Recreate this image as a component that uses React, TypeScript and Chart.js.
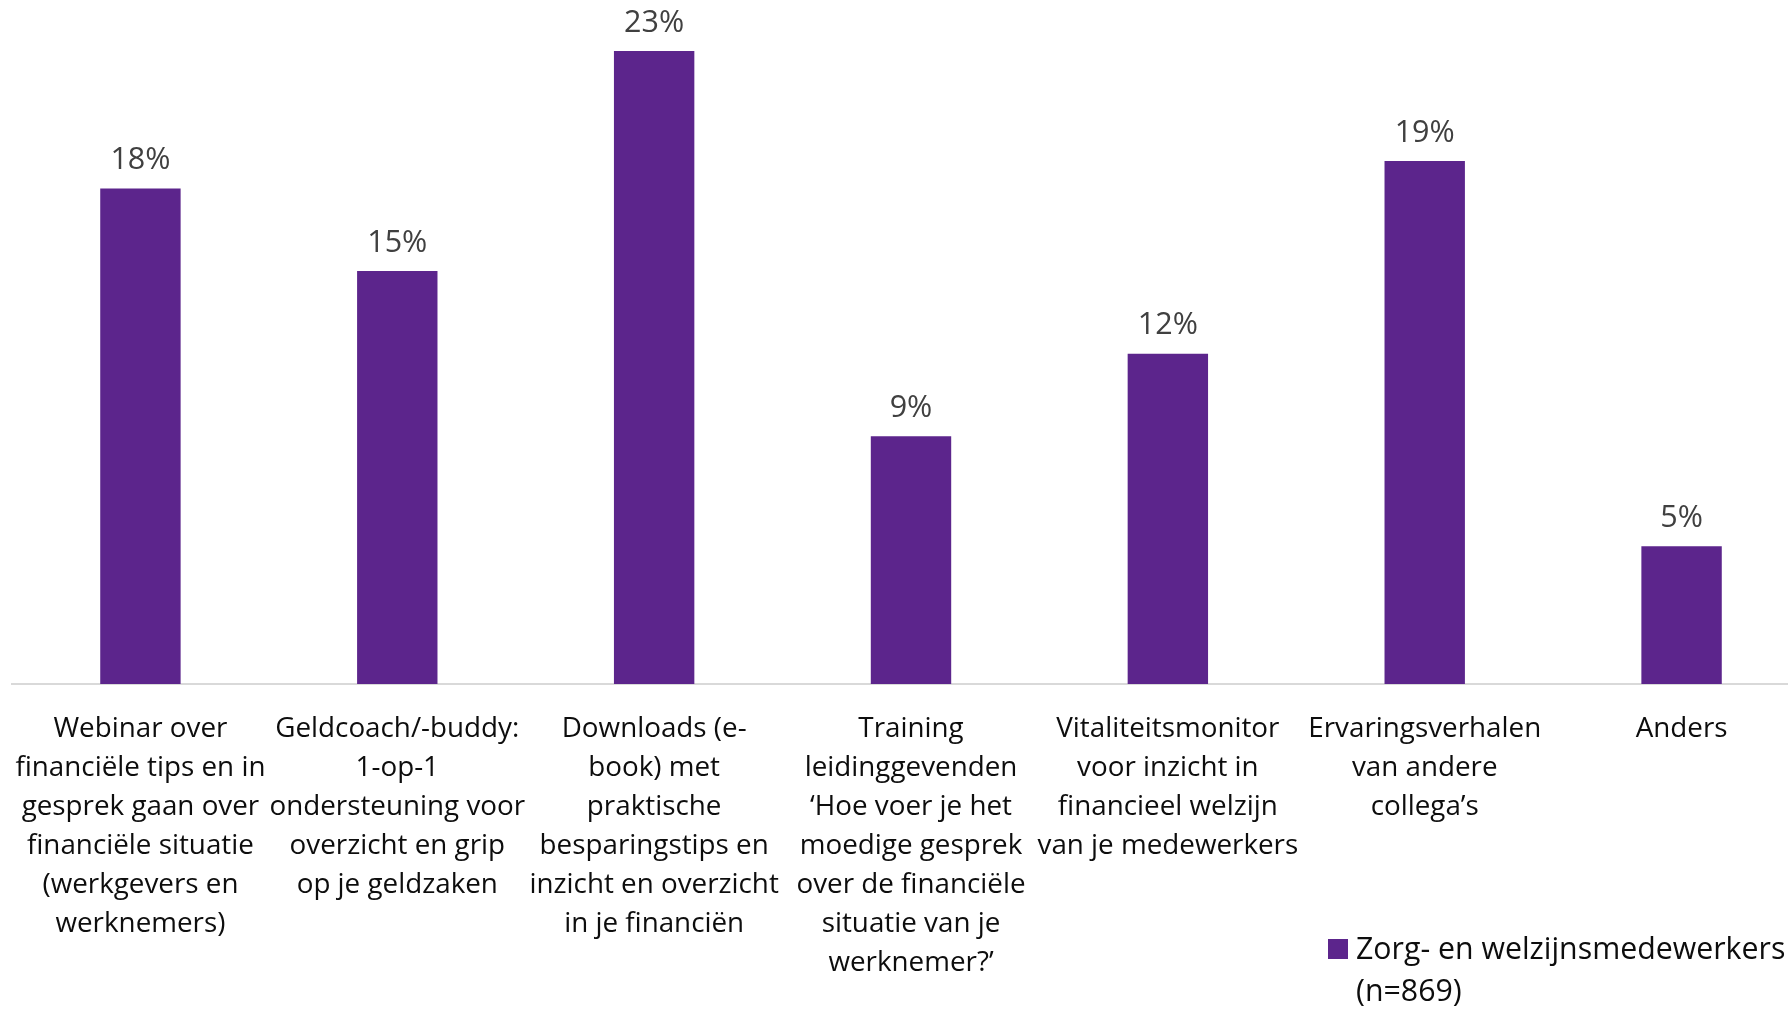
import React, { useEffect, useRef } from "react";
import { Chart, registerables } from "chart.js";

Chart.register(...registerables);

const categories: string[][] = [
  ["Webinar over", "financiële tips en in", "gesprek gaan over", "financiële situatie", "(werkgevers en", "werknemers)"],
  ["Geldcoach/-buddy:", "1-op-1", "ondersteuning voor", "overzicht en grip", "op je geldzaken"],
  ["Downloads (e-", "book) met", "praktische", "besparingstips en", "inzicht en overzicht", "in je financiën"],
  ["Training", "leidinggevenden", "‘Hoe voer je het", "moedige gesprek", "over de financiële", "situatie van je", "werknemer?’"],
  ["Vitaliteitsmonitor", "voor inzicht in", "financieel welzijn", "van je medewerkers"],
  ["Ervaringsverhalen", "van andere", "collega’s"],
  ["Anders"],
];

const values: number[] = [18, 15, 23, 9, 12, 19, 5];

const seriesLabelLines: string[] = ["Zorg- en welzijnsmedewerkers", "(n=869)"];

const BAR_COLOR = "#5C258C";
const FONT = "'Open Sans', 'Noto Sans', sans-serif";

const dataLabelPlugin = {
  id: "dataLabels",
  afterDatasetsDraw(chart: any) {
    const ctx = chart.ctx;
    const meta = chart.getDatasetMeta(0);
    ctx.save();
    ctx.font = `30.5px ${FONT}`;
    ctx.fillStyle = "#404040";
    ctx.textAlign = "center";
    ctx.textBaseline = "middle";
    meta.data.forEach((bar: any, i: number) => {
      ctx.fillText(`${values[i]}%`, bar.x, bar.y - 28);
    });
    ctx.restore();
  },
};

const legendPlugin = {
  id: "customLegend",
  afterDraw(chart: any) {
    const ctx = chart.ctx;
    const x = 1328;
    const y = 950;
    ctx.save();
    ctx.fillStyle = BAR_COLOR;
    ctx.fillRect(x, y - 11, 20, 20);
    ctx.font = `30.3px ${FONT}`;
    ctx.fillStyle = "#0d0d0d";
    ctx.textAlign = "left";
    ctx.textBaseline = "middle";
    seriesLabelLines.forEach((line, i) => {
      ctx.fillText(line, x + 28, y + i * 42);
    });
    ctx.restore();
  },
};

export default function App() {
  const canvasRef = useRef<HTMLCanvasElement>(null);

  useEffect(() => {
    if (!canvasRef.current) return;
    const chart = new Chart(canvasRef.current, {
      type: "bar",
      data: {
        labels: categories,
        datasets: [
          {
            label: seriesLabelLines.join(" "),
            data: values,
            backgroundColor: BAR_COLOR,
            categoryPercentage: 1,
            barPercentage: 0.313,
          },
        ],
      },
      options: {
        responsive: false,
        animation: false,
        layout: { padding: { left: 12, right: 0, top: 0, bottom: 0 } },
        plugins: {
          legend: { display: false },
          tooltip: { enabled: false },
        },
        scales: {
          x: {
            grid: { display: false, drawTicks: false },
            border: { display: true, color: "#d9d9d9", width: 2 },
            ticks: {
              autoSkip: false,
              maxRotation: 0,
              minRotation: 0,
              padding: 26,
              color: "#0d0d0d",
              font: { family: FONT, size: 27.8, lineHeight: "39px" },
            },
            afterFit: (scale: any) => {
              scale.height = 327;
              scale.paddingLeft = 0;
              scale.paddingRight = 0;
            },
          },
          y: {
            display: false,
            min: 0,
            max: 24.85,
          },
        },
      },
      plugins: [dataLabelPlugin, legendPlugin],
    });
    return () => chart.destroy();
  }, []);

  return (
    <div
      style={{
        position: "fixed",
        left: 0,
        top: 0,
        width: "1788px",
        height: "1011px",
        overflow: "hidden",
        background: "#ffffff",
      }}
    >
      <canvas ref={canvasRef} width={1810} height={1011} style={{ display: "block" }} />
    </div>
  );
}
